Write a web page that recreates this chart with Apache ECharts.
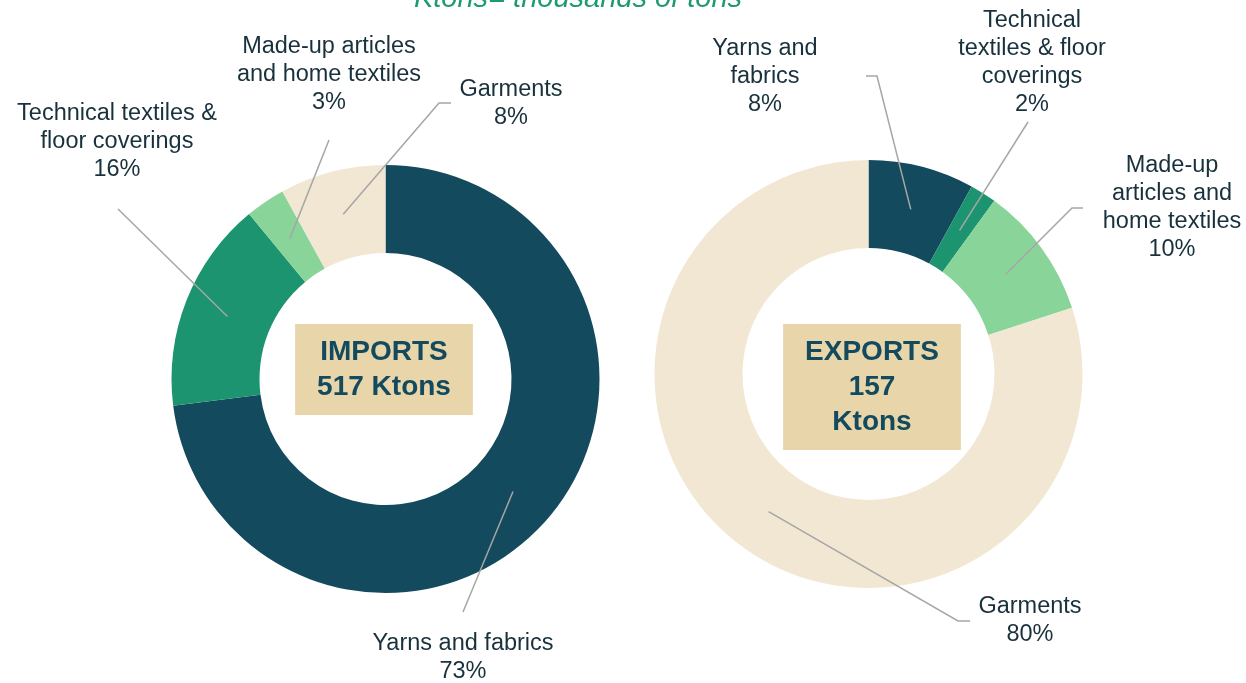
<!DOCTYPE html>
<html>
<head>
<meta charset="utf-8">
<script src="https://cdn.jsdelivr.net/npm/echarts@6/dist/echarts.min.js"></script>
<style>
html,body{margin:0;padding:0;background:#ffffff;}
#chart{width:1246px;height:683px;}
</style>
</head>
<body>
<div id="chart"></div>
<script>
// ---------------- data ----------------
const categories = ['Yarns and fabrics', 'Technical textiles & floor coverings', 'Made-up articles and home textiles', 'Garments'];
const importShares = [73, 16, 3, 8];
const exportShares = [8, 2, 10, 80];
const importLabelText = ['Yarns and fabrics', 'Technical textiles &\nfloor coverings', 'Made-up articles\nand home textiles', 'Garments'];
const exportLabelText = ['Yarns and\nfabrics', 'Technical\ntextiles & floor\ncoverings', 'Made-up\narticles and\nhome textiles', 'Garments'];
const flowNames = ['IMPORTS', 'EXPORTS'];
const flowTotals = [517, 157];
const unitNote = 'Ktons= thousands of tons';

// ---------------- layout / style ----------------
const COLORS = ['#134a5e', '#1c946f', '#89d499', '#f2e7d3'];
const FONT = '"Liberation Sans", Arial, sans-serif';
const R_IN = 126, R_OUT = 214, R_MID = 170;
const PANELS = [
  { center: [385.5, 379], box: [384, 324], totalSep: ' ',
    labels: [
      { pos: [463, 658], line: [[0, -46]] },
      { pos: [117, 142], line: [[1, 67]] },
      { pos: [329, 75], line: [[0, 65]] },
      { pos: [511, 104], line: [[-72, -1], [-60, -1]] }
    ] },
  { center: [868.5, 374], box: [872, 324], totalSep: '\n',
    labels: [
      { pos: [765, 77], line: [[112, -1], [101, -1]] },
      { pos: [1032, 63], line: [[-4, 59]] },
      { pos: [1172, 208], line: [[-100, 0], [-89, 0]] },
      { pos: [1030, 621], line: [[-72, 0], [-60, 0]] }
    ] }
];

function ringSeries(panel, shares) {
  return {
    type: 'pie', z: 2, center: panel.center, radius: [R_IN, R_OUT],
    startAngle: 90, clockwise: true, silent: true,
    emphasis: { disabled: true },
    label: { show: false }, labelLine: { show: false },
    data: shares.map((v, i) => ({ name: categories[i], value: v, itemStyle: { color: COLORS[i] } }))
  };
}

function fallbackStart(panel, shares, idx) {
  const total = shares.reduce((a, b) => a + b, 0);
  let cum = 0;
  for (let i = 0; i < idx; i++) cum += shares[i];
  const a = (cum + shares[idx] / 2) / total * 2 * Math.PI;
  return [panel.center[0] + R_MID * Math.sin(a), panel.center[1] - R_MID * Math.cos(a)];
}

function labelSeries(panel, shares, texts) {
  return {
    type: 'pie', z: 6, center: panel.center, radius: [0, R_MID],
    startAngle: 90, clockwise: true, silent: true, avoidLabelOverlap: false,
    emphasis: { disabled: true },
    itemStyle: { color: 'rgba(0,0,0,0)' },
    label: {
      show: true, position: 'outside',
      formatter: p => texts[p.dataIndex] + '\n' + p.value + '%',
      fontFamily: FONT, fontSize: 23.5, lineHeight: 28, color: '#18313c', align: 'center'
    },
    labelLine: { show: true, length: 10, length2: 10, lineStyle: { color: '#a6a6a6', width: 1.5 } },
    labelLayout: params => {
      const cfg = panel.labels[params.dataIndex];
      const start = (params.labelLinePoints && params.labelLinePoints[0])
        ? params.labelLinePoints[0] : fallbackStart(panel, shares, params.dataIndex);
      const pts = [start.slice()];
      cfg.line.forEach(o => pts.push([cfg.pos[0] + o[0], cfg.pos[1] + o[1]]));
      if (pts.length === 2) pts.push(pts[1].slice());
      return { x: cfg.pos[0], y: cfg.pos[1], align: 'center', verticalAlign: 'middle', labelLinePoints: pts };
    },
    data: shares.map((v, i) => ({ name: categories[i], value: v }))
  };
}

const shareSets = [importShares, exportShares];
const textSets = [importLabelText, exportLabelText];

const series = [];
PANELS.forEach((p, k) => series.push(ringSeries(p, shareSets[k])));
PANELS.forEach((p, k) => series.push(labelSeries(p, shareSets[k], textSets[k])));

const graphics = [
  { type: 'text', x: 578, y: -1, silent: true,
    style: { text: unitNote, font: 'italic 29px ' + FONT, fill: '#1e9a72', align: 'center', verticalAlign: 'middle' } }
];
PANELS.forEach((p, k) => {
  graphics.push({
    type: 'text', x: p.box[0], y: p.box[1], silent: true, z: 100,
    style: {
      text: flowNames[k] + '\n' + flowTotals[k] + p.totalSep + 'Ktons',
      font: 'bold 28px ' + FONT, lineHeight: 35, fill: '#134a5e',
      align: 'center', verticalAlign: 'top',
      backgroundColor: '#e8d6aa', padding: [11, 22, 10, 22]
    }
  });
});

const chart = echarts.init(document.getElementById('chart'), null, { renderer: 'canvas' });
chart.setOption({
  backgroundColor: '#ffffff',
  animation: false,
  series: series,
  graphic: graphics
});
</script>
</body>
</html>
